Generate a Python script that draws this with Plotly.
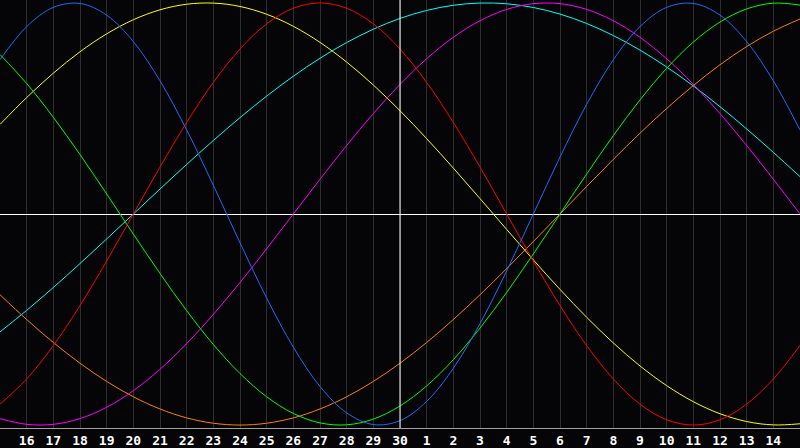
import plotly.graph_objects as go

# day labels along the bottom (position 0 .. 30)
days = [15, 16, 17, 18, 19, 20, 21, 22, 23, 24, 25, 26, 27, 28, 29, 30,
        1, 2, 3, 4, 5, 6, 7, 8, 9, 10, 11, 12, 13, 14, 15]

# cycle values, one per day
physical = [0.7308, 0.8879, 0.9791, 0.9977, 0.9423, 0.8170, 0.6311, 0.3984, 0.1362, -0.1362,
            -0.3984, -0.6311, -0.8170, -0.9423, -0.9977, -0.9791, -0.8879, -0.7308, -0.5196, -0.2698,
            0.0, 0.2698, 0.5196, 0.7308, 0.8879, 0.9791, 0.9977, 0.9423, 0.8170, 0.6311, 0.3984]
emotional = [-0.9010, -0.7818, -0.6235, -0.4339, -0.2225, 0.0, 0.2225, 0.4339, 0.6235, 0.7818,
             0.9010, 0.9749, 1.0, 0.9749, 0.9010, 0.7818, 0.6235, 0.4339, 0.2225, 0.0,
             -0.2225, -0.4339, -0.6235, -0.7818, -0.9010, -0.9749, -1.0, -0.9749, -0.9010, -0.7818, -0.6235]
intellectual = [0.7557, 0.6182, 0.4582, 0.2817, 0.0950, -0.0950, -0.2817, -0.4582, -0.6182, -0.7557,
                -0.8660, -0.9450, -0.9898, -0.9989, -0.9718, -0.9096, -0.8146, -0.6901, -0.5406, -0.3717,
                -0.1893, 0.0, 0.1893, 0.3717, 0.5406, 0.6901, 0.8146, 0.9096, 0.9718, 0.9989, 0.9898]
intuitive = [-0.9694, -0.9966, -0.9966, -0.9694, -0.9158, -0.8372, -0.7357, -0.6142, -0.4759, -0.3247,
             -0.1646, 0.0, 0.1646, 0.3247, 0.4759, 0.6142, 0.7357, 0.8372, 0.9158, 0.9694,
             0.9966, 0.9966, 0.9694, 0.9158, 0.8372, 0.7357, 0.6142, 0.4759, 0.3247, 0.1646, 0.0]
aesthetic = [0.4244, 0.5517, 0.6673, 0.7687, 0.8536, 0.9204, 0.9675, 0.9940, 0.9993, 0.9834,
             0.9465, 0.8894, 0.8133, 0.7199, 0.6111, 0.4894, 0.3572, 0.2175, 0.0731, -0.0731,
             -0.2175, -0.3572, -0.4894, -0.6111, -0.7199, -0.8133, -0.8894, -0.9465, -0.9834, -0.9993, -0.9940]
awareness = [-0.3827, -0.5, -0.6088, -0.7071, -0.7934, -0.8660, -0.9239, -0.9659, -0.9914, -1.0,
             -0.9914, -0.9659, -0.9239, -0.8660, -0.7934, -0.7071, -0.6088, -0.5, -0.3827, -0.2588,
             -0.1305, 0.0, 0.1305, 0.2588, 0.3827, 0.5, 0.6088, 0.7071, 0.7934, 0.8660, 0.9239]
spiritual = [-0.5586, -0.4566, -0.3482, -0.2349, -0.1183, 0.0, 0.1183, 0.2349, 0.3482, 0.4566,
             0.5586, 0.6528, 0.7380, 0.8125, 0.8757, 0.9267, 0.9646, 0.9890, 0.9996, 0.9961,
             0.9785, 0.9473, 0.9028, 0.8456, 0.7766, 0.6965, 0.6068, 0.5086, 0.4031, 0.2920, 0.1769]

series = [
    ('Spiritual', spiritual, '#00ffff'),
    ('Awareness', awareness, '#ff8000'),
    ('Aesthetic', aesthetic, '#ffff00'),
    ('Intuitive', intuitive, '#ff00ff'),
    ('Intellectual', intellectual, '#00ff00'),
    ('Emotional', emotional, '#ff0000'),
    ('Physical', physical, '#1a6cff'),
]

x = list(range(len(days)))

fig = go.Figure()
for name, vals, color in series:
    fig.add_trace(go.Scatter(
        x=x, y=vals, name=name, mode='lines',
        line=dict(color=color, width=1, shape='spline', smoothing=1),
        hoverinfo='skip',
    ))

# centre day marker
fig.add_shape(type='line', xref='x', yref='paper', x0=15, x1=15, y0=0, y1=1,
              line=dict(color='white', width=1), layer='above')

fig.update_layout(
    width=800, height=448,
    margin=dict(l=0, r=0, t=0, b=20),
    paper_bgcolor='#050508',
    plot_bgcolor='#050508',
    showlegend=False,
    xaxis=dict(
        range=[0, 30],
        tickvals=x[1:-1],
        ticktext=[str(d) for d in days[1:-1]],
        tickfont=dict(family='DejaVu Sans Mono', size=13, color='white', weight='bold'),
        showgrid=True, gridcolor='#2e2e2e', gridwidth=1,
        zeroline=False,
        showline=True, linecolor='#a0a0a0', linewidth=1, mirror=True,
        ticks='',
    ),
    yaxis=dict(
        range=[-1.014, 1.014],
        showticklabels=False,
        showgrid=False,
        zeroline=True, zerolinecolor='white', zerolinewidth=1,
        showline=True, linecolor='#a0a0a0', linewidth=1,
        ticks='',
    ),
)

# drop the page's default body margin so the 800x448 figure fills the window
fig.write_html("out.html", config={'displayModeBar': False},
               post_script="document.body.style.margin='0';")
